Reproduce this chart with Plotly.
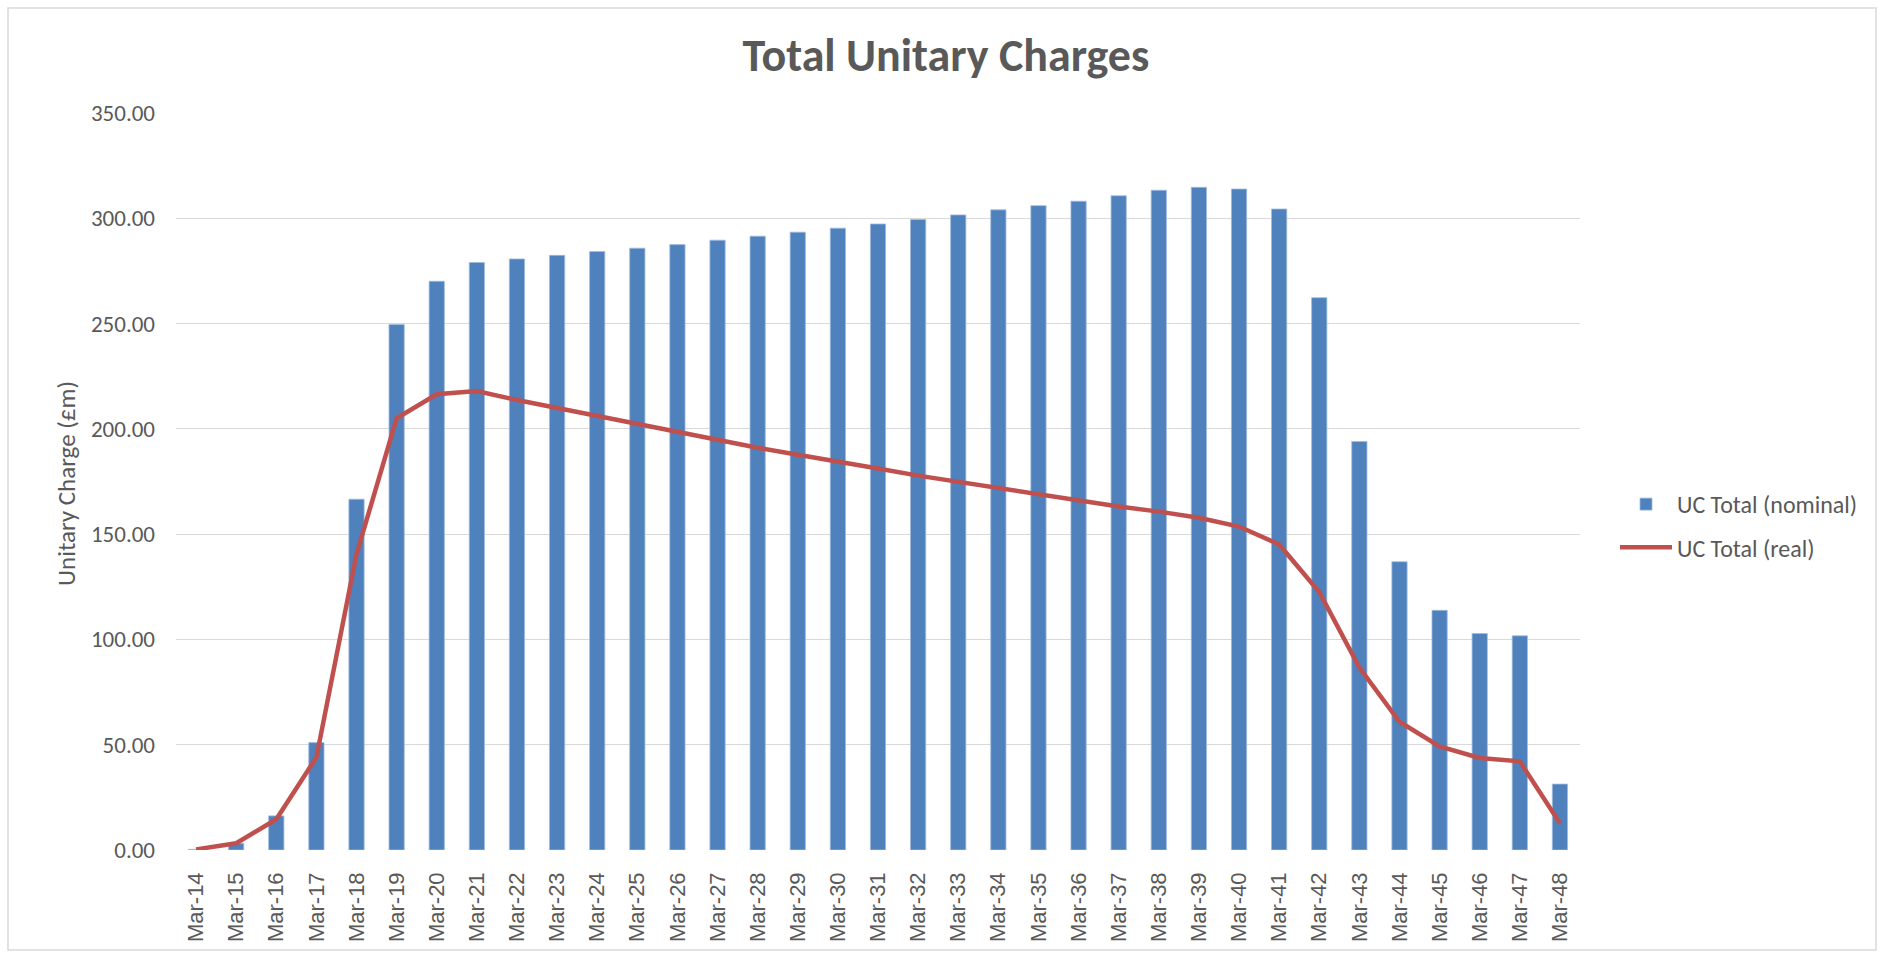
import plotly.graph_objects as go

categories = [f"Mar-{y}" for y in range(14, 49)]
uc_nominal = [0.3, 3.2, 16.2, 51.0, 166.6, 249.6, 270.1, 279.0, 280.7, 282.4,
              284.2, 285.8, 287.5, 289.6, 291.5, 293.4, 295.3, 297.3, 299.4, 301.6,
              304.0, 306.0, 308.1, 310.7, 313.3, 314.7, 313.9, 304.4, 262.3, 194.0,
              136.9, 113.8, 102.8, 101.7, 31.3]
uc_real = [0.3, 3.2, 14.6, 44.0, 140.5, 205.0, 216.4, 218.0, 213.7, 209.9,
           206.1, 202.2, 198.2, 194.7, 191.0, 187.7, 184.2, 181.2, 177.8, 174.8,
           171.7, 168.7, 165.8, 163.1, 160.7, 157.8, 153.6, 145.1, 122.5, 86.6,
           60.9, 49.2, 43.7, 42.1, 12.7]
y_ticks = [0, 50, 100, 150, 200, 250, 300, 350]

GREY = "#595959"
CAL = "Carlito, Calibri, Lato, sans-serif"

fig = go.Figure()
fig.add_trace(go.Bar(
    x=categories, y=uc_nominal, name="UC Total (nominal)",
    marker=dict(color="#4F81BD", line=dict(color="#9FBBE0", width=0.8)),
    legendgroup="a",
))
fig.add_trace(go.Scatter(
    x=categories, y=uc_real, name="UC Total (real)", mode="lines",
    line=dict(color="#C0504D", width=4.5, shape="linear"),
    legendgroup="b",
))

W, H = 1883, 957
L, R, T, B = 176, 303, 113, 107
pw, ph = W - L - R, H - T - B

def px_x(v):
    return (v - L) / pw

def px_y(v):
    return (H - B - v) / ph

fig.update_layout(
    width=W, height=H,
    margin=dict(l=L, r=R, t=T, b=B, pad=0),
    paper_bgcolor="white", plot_bgcolor="white",
    bargap=0.62,
    title=dict(text="<b>Total Unitary Charges</b>", x=946 / W, xanchor="center",
               y=1 - 55 / H, yanchor="middle", yref="container",
               font=dict(family=CAL, size=46, color=GREY)),
    xaxis=dict(
        type="category", tickangle=-90, showgrid=False, zeroline=False,
        showline=False, ticks="", ticklabelstandoff=17,
        tickfont=dict(family="Liberation Sans, Arial, sans-serif", size=22, color=GREY),
    ),
    yaxis=dict(
        range=[0, 350], tickvals=y_ticks, tickformat=".2f",
        showgrid=True, gridcolor="#D9D9D9", gridwidth=1.3,
        zeroline=False, showline=False, ticks="", ticklabelstandoff=20,
        tickfont=dict(family=CAL, size=23, color=GREY),
    ),
    legend=dict(
        x=px_x(1615), y=px_y(482), xanchor="left", yanchor="top",
        font=dict(family=CAL, size=24, color=GREY),
        traceorder="grouped", tracegroupgap=9, itemwidth=52,
        bgcolor="rgba(0,0,0,0)",
    ),
    showlegend=True,
    annotations=[dict(
        text="Unitary Charge (£m)", textangle=-90,
        xref="paper", yref="paper", x=px_x(66), y=px_y(484),
        xanchor="center", yanchor="middle", showarrow=False,
        font=dict(family=CAL, size=25, color=GREY),
    )],
    shapes=[dict(
        type="rect", xref="paper", yref="paper", layer="below",
        x0=px_x(8), x1=px_x(1876), y0=px_y(950), y1=px_y(8),
        line=dict(color="#D9D9D9", width=1.5), fillcolor="rgba(0,0,0,0)",
    )],
)

fig.write_html("out.html", config={"displayModeBar": False},
               post_script="document.body.style.margin='0';document.body.style.overflow='hidden';")
